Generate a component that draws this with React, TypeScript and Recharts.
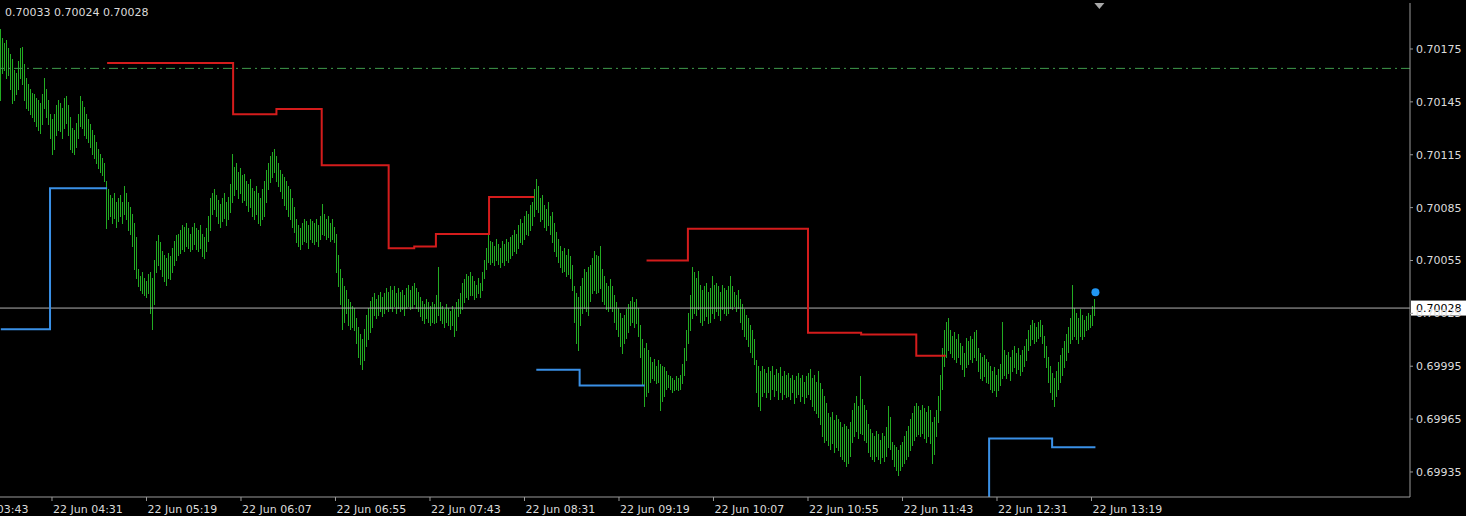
import React from 'react';
import { ComposedChart, Bar, Line, XAxis, YAxis, ReferenceLine, ReferenceDot } from 'recharts';

// M1 bars, first bar time in minutes of the day (04:05)
const firstBarMinute = 245;

const highs = [
  0.70186,0.70181,0.70178,0.70180,0.70175,0.70172,0.70169,0.70163,0.70161,0.70168,
  0.70175,0.70176,0.70166,0.70158,0.70155,0.70152,0.70150,0.70149,0.70147,0.70146,
  0.70144,0.70149,0.70158,0.70152,0.70146,0.70138,0.70135,0.70138,0.70143,0.70146,
  0.70144,0.70141,0.70147,0.70148,0.70143,0.70136,0.70130,0.70129,0.70133,0.70138,
  0.70148,0.70145,0.70142,0.70140,0.70138,0.70135,0.70132,0.70129,0.70126,0.70122,
  0.70118,0.70115,0.70113,0.70110,0.70100,0.70095,0.70092,0.70090,0.70093,0.70088,
  0.70090,0.70092,0.70088,0.70097,0.70093,0.70088,0.70085,0.70081,0.70076,0.70068,
  0.70050,0.70046,0.70048,0.70045,0.70043,0.70047,0.70048,0.70045,0.70055,0.70066,
  0.70069,0.70065,0.70060,0.70058,0.70056,0.70059,0.70057,0.70062,0.70066,0.70069,
  0.70070,0.70072,0.70075,0.70074,0.70076,0.70073,0.70070,0.70074,0.70076,0.70073,
  0.70072,0.70075,0.70070,0.70068,0.70073,0.70080,0.70086,0.70090,0.70093,0.70095,
  0.70092,0.70089,0.70087,0.70090,0.70093,0.70088,0.70091,0.70098,0.70115,0.70108,
  0.70110,0.70105,0.70107,0.70103,0.70104,0.70100,0.70098,0.70101,0.70096,0.70094,
  0.70097,0.70093,0.70090,0.70095,0.70100,0.70106,0.70110,0.70114,0.70116,0.70118,
  0.70114,0.70110,0.70106,0.70104,0.70102,0.70100,0.70097,0.70095,0.70090,0.70085,
  0.70078,0.70075,0.70073,0.70076,0.70078,0.70077,0.70075,0.70078,0.70077,0.70076,
  0.70078,0.70075,0.70080,0.70087,0.70081,0.70078,0.70080,0.70076,0.70078,0.70074,
  0.70070,0.70065,0.70058,0.70050,0.70045,0.70040,0.70038,0.70033,0.70031,0.70029,
  0.70028,0.70022,0.70017,0.70013,0.70010,0.70016,0.70024,0.70028,0.70032,0.70034,
  0.70036,0.70033,0.70035,0.70037,0.70034,0.70036,0.70039,0.70037,0.70040,0.70038,
  0.70040,0.70036,0.70039,0.70037,0.70038,0.70035,0.70039,0.70041,0.70038,0.70040,
  0.70042,0.70039,0.70037,0.70034,0.70032,0.70030,0.70033,0.70031,0.70029,0.70031,
  0.70030,0.70035,0.70051,0.70031,0.70029,0.70027,0.70030,0.70028,0.70026,0.70029,
  0.70027,0.70031,0.70033,0.70036,0.70039,0.70042,0.70044,0.70047,0.70046,0.70048,
  0.70046,0.70043,0.70041,0.70045,0.70042,0.70048,0.70055,0.70062,0.70070,0.70066,
  0.70065,0.70063,0.70067,0.70064,0.70062,0.70066,0.70064,0.70067,0.70065,0.70068,
  0.70069,0.70072,0.70070,0.70075,0.70078,0.70076,0.70080,0.70083,0.70081,0.70086,
  0.70088,0.70095,0.70101,0.70097,0.70090,0.70092,0.70086,0.70084,0.70088,0.70080,
  0.70082,0.70076,0.70071,0.70067,0.70063,0.70060,0.70062,0.70058,0.70061,0.70057,
  0.70052,0.70040,0.70036,0.70034,0.70040,0.70045,0.70050,0.70048,0.70051,0.70046,
  0.70052,0.70056,0.70060,0.70058,0.70057,0.70063,0.70050,0.70046,0.70042,0.70040,
  0.70044,0.70040,0.70035,0.70031,0.70028,0.70025,0.70022,0.70024,0.70027,0.70030,
  0.70032,0.70034,0.70031,0.70033,0.70028,0.70018,0.70010,0.70005,0.70008,0.70004,
  0.70000,0.69997,0.69999,0.69995,0.69998,0.69996,0.69995,0.69994,0.69992,0.69990,
  0.69989,0.69988,0.69987,0.69989,0.69988,0.69990,0.69996,0.70005,0.70015,0.70025,
  0.70035,0.70051,0.70048,0.70045,0.70049,0.70041,0.70038,0.70040,0.70042,0.70037,
  0.70039,0.70046,0.70041,0.70038,0.70042,0.70040,0.70037,0.70041,0.70039,0.70038,
  0.70040,0.70046,0.70040,0.70037,0.70035,0.70038,0.70033,0.70030,0.70027,0.70024,
  0.70022,0.70018,0.70015,0.70010,0.69998,0.69995,0.69992,0.69995,0.69993,0.69991,
  0.69994,0.69992,0.69995,0.69990,0.69993,0.69991,0.69994,0.69989,0.69992,0.69990,
  0.69991,0.69988,0.69990,0.69987,0.69989,0.69991,0.69988,0.69990,0.69986,0.69989,
  0.69991,0.69993,0.69988,0.69990,0.69986,0.69992,0.69985,0.69982,0.69978,0.69974,
  0.69968,0.69966,0.69969,0.69964,0.69967,0.69965,0.69962,0.69963,0.69960,0.69962,
  0.69961,0.69959,0.69963,0.69970,0.69974,0.69978,0.69972,0.69989,0.69976,0.69973,
  0.69970,0.69962,0.69959,0.69957,0.69955,0.69958,0.69956,0.69953,0.69957,0.69955,
  0.69960,0.69972,0.69966,0.69952,0.69950,0.69949,0.69947,0.69950,0.69952,0.69955,
  0.69958,0.69961,0.69965,0.69968,0.69972,0.69974,0.69972,0.69970,0.69973,0.69971,
  0.69969,0.69972,0.69970,0.69963,0.69966,0.69970,0.69978,0.69990,0.70005,0.70015,
  0.70020,0.70022,0.70015,0.70012,0.70014,0.70010,0.70013,0.70008,0.70006,0.70002,
  0.70008,0.70011,0.70009,0.70012,0.70010,0.70014,0.70015,0.70005,0.70002,0.70000,
  0.70001,0.69999,0.69997,0.69995,0.69992,0.69994,0.69990,0.69993,0.69996,0.70020,
  0.70004,0.70001,0.70003,0.70000,0.70004,0.70006,0.70002,0.70005,0.70001,0.70004,
  0.70006,0.70010,0.70015,0.70018,0.70021,0.70019,0.70017,0.70020,0.70021,0.70018,
  0.70012,0.70006,0.70000,0.69995,0.69991,0.69988,0.69992,0.69997,0.70001,0.70005,
  0.70009,0.70013,0.70017,0.70022,0.70041,0.70028,0.70025,0.70022,0.70027,0.70024,
  0.70021,0.70023,0.70025,0.70024,0.70026,0.70029,0.70033,
];

const lows = [
  0.70146,0.70161,0.70163,0.70158,0.70160,0.70152,0.70144,0.70146,0.70149,0.70152,
  0.70158,0.70155,0.70146,0.70141,0.70140,0.70138,0.70136,0.70134,0.70131,0.70129,
  0.70127,0.70132,0.70141,0.70136,0.70132,0.70124,0.70115,0.70118,0.70126,0.70129,
  0.70128,0.70124,0.70130,0.70133,0.70126,0.70118,0.70116,0.70115,0.70119,0.70124,
  0.70131,0.70130,0.70127,0.70126,0.70124,0.70122,0.70119,0.70115,0.70113,0.70110,
  0.70107,0.70105,0.70103,0.70100,0.70073,0.70078,0.70080,0.70076,0.70079,0.70074,
  0.70077,0.70080,0.70076,0.70081,0.70078,0.70072,0.70070,0.70063,0.70050,0.70045,
  0.70040,0.70038,0.70036,0.70035,0.70034,0.70036,0.70025,0.70016,0.70030,0.70048,
  0.70052,0.70050,0.70046,0.70043,0.70041,0.70045,0.70044,0.70048,0.70052,0.70055,
  0.70058,0.70059,0.70061,0.70060,0.70063,0.70062,0.70060,0.70061,0.70064,0.70061,
  0.70060,0.70062,0.70057,0.70056,0.70060,0.70066,0.70072,0.70076,0.70081,0.70084,
  0.70080,0.70076,0.70074,0.70077,0.70079,0.70075,0.70078,0.70082,0.70088,0.70092,
  0.70095,0.70090,0.70093,0.70088,0.70089,0.70086,0.70083,0.70085,0.70080,0.70078,
  0.70081,0.70076,0.70075,0.70078,0.70080,0.70088,0.70095,0.70099,0.70102,0.70105,
  0.70100,0.70097,0.70094,0.70090,0.70086,0.70084,0.70080,0.70078,0.70074,0.70071,
  0.70065,0.70063,0.70061,0.70064,0.70066,0.70065,0.70062,0.70067,0.70065,0.70064,
  0.70066,0.70063,0.70067,0.70070,0.70069,0.70067,0.70068,0.70066,0.70067,0.70065,
  0.70055,0.70048,0.70040,0.70030,0.70016,0.70020,0.70025,0.70018,0.70016,0.70017,
  0.70015,0.70008,0.70000,0.69996,0.69993,0.69998,0.70006,0.70010,0.70014,0.70017,
  0.70024,0.70022,0.70024,0.70026,0.70023,0.70025,0.70027,0.70026,0.70028,0.70026,
  0.70029,0.70025,0.70028,0.70026,0.70027,0.70024,0.70028,0.70029,0.70027,0.70028,
  0.70030,0.70028,0.70026,0.70023,0.70021,0.70019,0.70022,0.70020,0.70018,0.70020,
  0.70019,0.70020,0.70024,0.70021,0.70019,0.70017,0.70020,0.70018,0.70016,0.70018,
  0.70012,0.70015,0.70023,0.70025,0.70027,0.70029,0.70031,0.70034,0.70033,0.70035,
  0.70035,0.70033,0.70034,0.70036,0.70034,0.70038,0.70045,0.70050,0.70054,0.70053,
  0.70054,0.70052,0.70055,0.70053,0.70051,0.70054,0.70052,0.70055,0.70054,0.70056,
  0.70058,0.70060,0.70059,0.70062,0.70065,0.70064,0.70067,0.70070,0.70069,0.70072,
  0.70075,0.70080,0.70084,0.70082,0.70077,0.70078,0.70074,0.70072,0.70075,0.70070,
  0.70065,0.70060,0.70057,0.70054,0.70051,0.70048,0.70049,0.70046,0.70047,0.70045,
  0.70038,0.70020,0.70008,0.70004,0.70018,0.70025,0.70028,0.70026,0.70029,0.70024,
  0.70032,0.70036,0.70038,0.70036,0.70037,0.70039,0.70032,0.70030,0.70027,0.70026,
  0.70028,0.70026,0.70020,0.70016,0.70012,0.70006,0.70002,0.70008,0.70011,0.70014,
  0.70018,0.70020,0.70017,0.70019,0.70012,0.70000,0.69984,0.69972,0.69978,0.69980,
  0.69986,0.69988,0.69987,0.69985,0.69986,0.69970,0.69975,0.69978,0.69982,0.69983,
  0.69982,0.69980,0.69981,0.69982,0.69981,0.69982,0.69985,0.69990,0.69998,0.70008,
  0.70015,0.70022,0.70025,0.70024,0.70027,0.70020,0.70018,0.70021,0.70023,0.70019,
  0.70020,0.70025,0.70024,0.70022,0.70026,0.70024,0.70021,0.70027,0.70025,0.70024,
  0.70025,0.70028,0.70027,0.70029,0.70026,0.70028,0.70020,0.70016,0.70012,0.70010,
  0.70006,0.70003,0.70000,0.69996,0.69980,0.69972,0.69970,0.69978,0.69980,0.69977,
  0.69980,0.69976,0.69982,0.69978,0.69981,0.69976,0.69980,0.69976,0.69979,0.69977,
  0.69978,0.69976,0.69980,0.69974,0.69977,0.69979,0.69975,0.69978,0.69974,0.69977,
  0.69979,0.69976,0.69972,0.69970,0.69968,0.69966,0.69962,0.69955,0.69952,0.69953,
  0.69950,0.69948,0.69951,0.69946,0.69949,0.69947,0.69944,0.69945,0.69942,0.69941,
  0.69938,0.69940,0.69944,0.69952,0.69955,0.69958,0.69954,0.69957,0.69956,0.69953,
  0.69952,0.69946,0.69944,0.69942,0.69941,0.69944,0.69942,0.69940,0.69943,0.69941,
  0.69944,0.69949,0.69948,0.69942,0.69938,0.69936,0.69933,0.69936,0.69938,0.69940,
  0.69942,0.69944,0.69947,0.69950,0.69953,0.69955,0.69956,0.69955,0.69957,0.69954,
  0.69952,0.69955,0.69951,0.69940,0.69945,0.69955,0.69963,0.69970,0.69982,0.69995,
  0.70000,0.70004,0.70002,0.70000,0.69999,0.69997,0.70000,0.69996,0.69993,0.69989,
  0.69994,0.69997,0.69996,0.69999,0.69997,0.70000,0.69998,0.69992,0.69988,0.69987,
  0.69989,0.69986,0.69985,0.69982,0.69980,0.69981,0.69978,0.69981,0.69984,0.69988,
  0.69990,0.69988,0.69991,0.69987,0.69992,0.69994,0.69991,0.69993,0.69990,0.69992,
  0.69995,0.69998,0.70004,0.70007,0.70010,0.70008,0.70009,0.70011,0.70012,0.70008,
  0.70000,0.69994,0.69986,0.69980,0.69976,0.69972,0.69978,0.69982,0.69986,0.69990,
  0.69994,0.69998,0.70003,0.70008,0.70010,0.70012,0.70010,0.70008,0.70012,0.70010,
  0.70012,0.70015,0.70016,0.70017,0.70018,0.70020,0.70024,
];

// resistance (red) and support (blue) step levels, by bar index
const redSteps = [
  { from: 54, to: 118, price: 0.70167 },
  { from: 118, to: 140, price: 0.70138 },
  { from: 140, to: 163, price: 0.70141 },
  { from: 163, to: 197, price: 0.70109 },
  { from: 197, to: 210, price: 0.70062 },
  { from: 210, to: 221, price: 0.70063 },
  { from: 221, to: 248, price: 0.70070 },
  { from: 248, to: 271, price: 0.70091 },
  { from: 328, to: 349, price: 0.70055 },
  { from: 349, to: 410, price: 0.70073 },
  { from: 410, to: 437, price: 0.70014 },
  { from: 437, to: 465, price: 0.70013 },
  { from: 465, to: 480, price: 0.70001 },
];
const blueSteps = [
  { from: 0, to: 25, price: 0.70016 },
  { from: 25, to: 54, price: 0.70096 },
  { from: 272, to: 294, price: 0.69993 },
  { from: 294, to: 327, price: 0.69984 },
  { from: 488, to: 502, price: 0.69905 },
  { from: 502, to: 534, price: 0.69954 },
  { from: 534, to: 556, price: 0.69949 },
];

const xTickMinutes = [223, 271, 319, 367, 415, 463, 511, 559, 607, 655, 703, 751, 799];
const xTickLabels = [
  '22 Jun 03:43', '22 Jun 04:31', '22 Jun 05:19', '22 Jun 06:07', '22 Jun 06:55',
  '22 Jun 07:43', '22 Jun 08:31', '22 Jun 09:19', '22 Jun 10:07', '22 Jun 10:55',
  '22 Jun 11:43', '22 Jun 12:31', '22 Jun 13:19',
];
const yTicks = [0.69935, 0.69965, 0.69995, 0.70025, 0.70055, 0.70085, 0.70115, 0.70145, 0.70175];
const yTickLabels = ['0.69935', '0.69965', '0.69995', '0.70025', '0.70055', '0.70085', '0.70115', '0.70145', '0.70175'];

const lastPrice = 0.70028;
const lastPriceLabel = '0.70028';
const levelPrice = 0.70164;
const markerPrice = 0.70037;
const shiftMarkerMinute = 803;
const infoText = '0.70033 0.70024 0.70028';

const xDomain = [244.59, 960.78];
const yDomain = [0.699208, 0.702011];

const FONT = '"DejaVu Sans", Verdana, sans-serif';
const AXIS = '#9a9a9a';
const TEXT = '#dcdcdc';
const BAR_GREEN = '#22ac22';

function stepValue(steps: { from: number; to: number; price: number }[], i: number) {
  for (const s of steps) if (i >= s.from && i < s.to) return s.price;
  for (const s of steps) if (i === s.to) return s.price;
  return null;
}

const data = highs.map((h, i) => ({
  t: firstBarMinute + i,
  range: [lows[i], h],
  red: stepValue(redSteps, i),
  blue: stepValue(blueSteps, i),
}));

// each bar drawn as a crisp 1px vertical line on a pixel column of fixed parity
const BarLine = (props: any) => {
  const { x, y, width, height } = props;
  if (x == null || y == null) return null;
  const centre = x + width / 2;
  const col = 2 * Math.round(centre / 2);
  const top = Math.min(y, y + height);
  const bot = Math.max(y, y + height);
  return (
    <line
      x1={col + 0.5}
      x2={col + 0.5}
      y1={Math.floor(top)}
      y2={Math.max(Math.ceil(bot), Math.floor(top) + 1)}
      stroke={BAR_GREEN}
      strokeWidth={1}
      shapeRendering="crispEdges"
    />
  );
};

const XTick = (props: any) => {
  const { x, y, payload } = props;
  const idx = xTickMinutes.indexOf(payload.value);
  return (
    <text x={x + 1} y={y + 10} fill={TEXT} fontSize={11} fontFamily={FONT} textAnchor="start">
      {xTickLabels[idx]}
    </text>
  );
};

const YTick = (props: any) => {
  const { x, y, payload } = props;
  const idx = yTicks.indexOf(payload.value);
  return (
    <text x={x + 1} y={y + 4} fill={TEXT} fontSize={11} fontFamily={FONT} textAnchor="start">
      {yTickLabels[idx]}
    </text>
  );
};

const PriceTag = (props: any) => {
  const vb = props.viewBox || {};
  const right = (vb.x || 0) + (vb.width || 0);
  const y = vb.y || 0;
  return (
    <g>
      <rect x={right + 1} y={y - 7.5} width={56} height={15} fill="#ffffff" />
      <text x={right + 6} y={y + 4} fill="#000000" fontSize={11} fontFamily={FONT} textAnchor="start">
        {lastPriceLabel}
      </text>
    </g>
  );
};

const ShiftMarker = (props: any) => {
  const { cx, cy } = props;
  if (cx == null) return null;
  return <path d={`M${cx - 5},${cy} L${cx + 5},${cy} L${cx},${cy + 6} Z`} fill="#a8a8a8" />;
};

export default function App() {
  return (
    <div style={{ position: 'absolute', left: 0, top: 0, width: 1466, height: 516, background: '#000', overflow: 'hidden' }}>
      <ComposedChart width={1466} height={516} data={data} margin={{ top: 3, right: 0, bottom: 0, left: 0 }}>
        <XAxis
          dataKey="t"
          type="number"
          domain={xDomain}
          allowDataOverflow
          ticks={xTickMinutes}
          interval={0}
          height={19}
          tickSize={4}
          axisLine={{ stroke: AXIS }}
          tickLine={{ stroke: AXIS }}
          tick={<XTick />}
        />
        <XAxis
          xAxisId="top"
          orientation="top"
          dataKey="t"
          type="number"
          domain={xDomain}
          allowDataOverflow
          height={0}
          tick={false}
          tickLine={false}
          axisLine={{ stroke: AXIS }}
        />
        <YAxis
          orientation="right"
          type="number"
          domain={yDomain}
          allowDataOverflow
          ticks={yTicks}
          interval={0}
          width={56}
          tickSize={3}
          axisLine={{ stroke: AXIS }}
          tickLine={{ stroke: AXIS }}
          tick={<YTick />}
        />
        <ReferenceLine y={levelPrice} stroke="#3f9a4c" strokeDasharray="9 4 2 4" />
        <Bar dataKey="range" barSize={1} isAnimationActive={false} shape={<BarLine />} fill={BAR_GREEN} />
        <ReferenceLine y={lastPrice} stroke="#b0b0b0" label={<PriceTag />} />
        <Line dataKey="red" type="stepAfter" stroke="#d41c1c" strokeWidth={2} dot={false} connectNulls={false} isAnimationActive={false} />
        <Line dataKey="blue" type="stepAfter" stroke="#3a90e6" strokeWidth={2} dot={false} connectNulls={false} isAnimationActive={false} />
        <ReferenceDot x={firstBarMinute + highs.length - 1} y={markerPrice} r={4} fill="#2196f3" stroke="none" />
        <ReferenceDot x={shiftMarkerMinute} y={yDomain[1]} r={5} shape={<ShiftMarker />} />
      </ComposedChart>
      <div
        style={{
          position: 'absolute',
          left: 5,
          top: 6,
          fontFamily: FONT,
          fontSize: 11,
          lineHeight: '13px',
          color: TEXT,
          whiteSpace: 'nowrap',
        }}
      >
        {infoText}
      </div>
    </div>
  );
}
